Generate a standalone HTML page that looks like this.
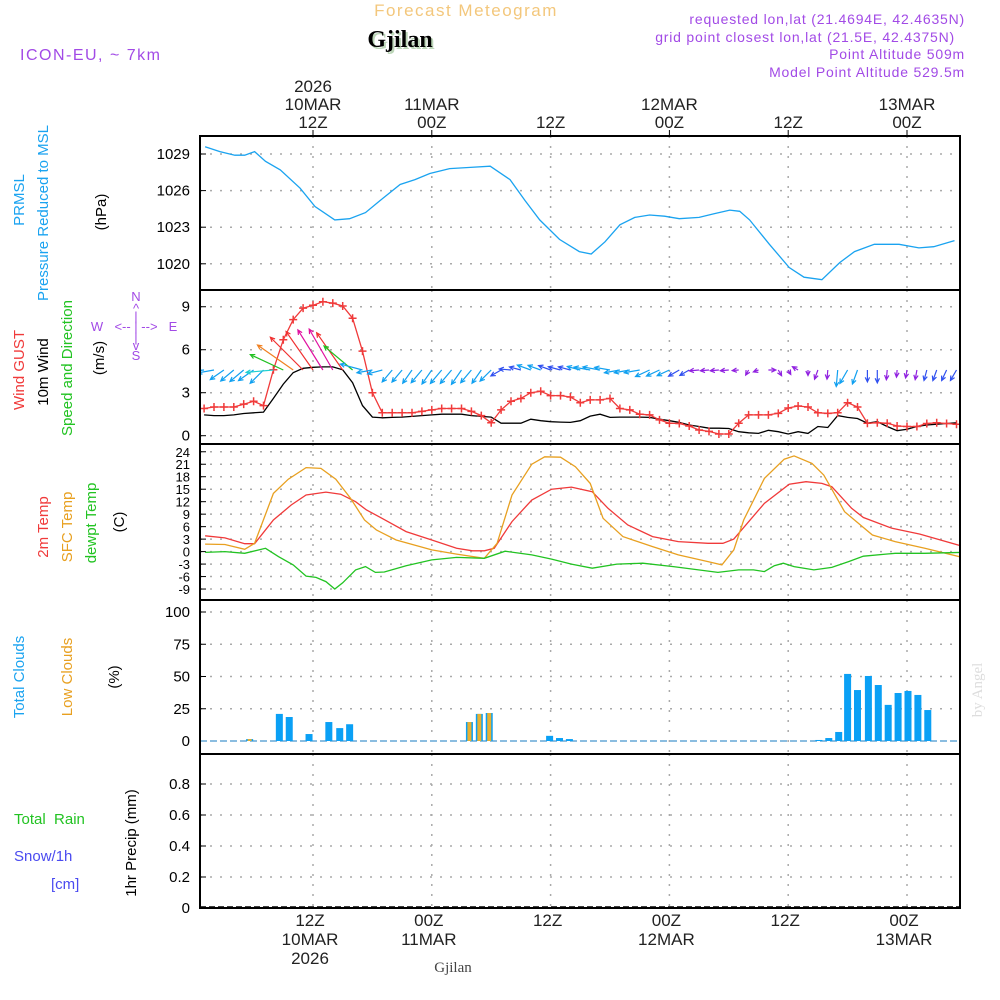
<!DOCTYPE html>
<html><head><meta charset="utf-8">
<style>
html,body{margin:0;padding:0;background:#fff;}
svg{display:block;font-family:"Liberation Sans",sans-serif;}
</style></head>
<body>
<svg id="chart" width="1000" height="1000" viewBox="0 0 1000 1000" xmlns="http://www.w3.org/2000/svg">
<defs><clipPath id="plotclip"><rect x="200" y="136" width="760" height="772"/></clipPath></defs>
<text x="466" y="16" font-size="17" fill="#f3c77c" text-anchor="middle" letter-spacing="1.5">Forecast Meteogram</text>
<text x="402" y="49" font-size="24" font-weight="bold" font-family="Liberation Serif, serif" fill="#bcd6b8" text-anchor="middle">Gjilan</text>
<text x="400" y="47" font-size="24" font-weight="bold" font-family="Liberation Serif, serif" fill="#000" text-anchor="middle">Gjilan</text>
<text x="965" y="24" font-size="14" fill="#a24ae6" text-anchor="end" letter-spacing="0.8">requested lon,lat (21.4694E, 42.4635N)</text>
<text x="955" y="42" font-size="14" fill="#a24ae6" text-anchor="end" letter-spacing="0.8">grid point closest lon,lat (21.5E, 42.4375N)</text>
<text x="965" y="59" font-size="14" fill="#a24ae6" text-anchor="end" letter-spacing="0.8">Point Altitude 509m</text>
<text x="965" y="77" font-size="14" fill="#a24ae6" text-anchor="end" letter-spacing="0.8">Model Point Altitude 529.5m</text>
<text x="20" y="60" font-size="16" fill="#a24ae6" letter-spacing="1.5">ICON-EU, ~ 7km</text>

<text transform="translate(24,200) rotate(-90)" font-size="15" fill="#1aa3f0" text-anchor="middle">PRMSL</text>
<text transform="translate(48,213) rotate(-90)" font-size="15" fill="#1aa3f0" text-anchor="middle">Pressure Reduced to MSL</text>
<text transform="translate(106,212) rotate(-90)" font-size="15" fill="#000" text-anchor="middle">(hPa)</text>
<text transform="translate(24,370) rotate(-90)" font-size="15" fill="#f03a3a" text-anchor="middle">Wind GUST</text>
<text transform="translate(48,372) rotate(-90)" font-size="15" fill="#000" text-anchor="middle">10m Wind</text>
<text transform="translate(72,368) rotate(-90)" font-size="15" fill="#22c322" text-anchor="middle">Speed and Direction</text>
<text transform="translate(104,358) rotate(-90)" font-size="15" fill="#000" text-anchor="middle">(m/s)</text>
<g font-size="13" fill="#a24ae6" text-anchor="middle">
<text x="136" y="301">N</text><text x="136" y="313">^</text><text x="136" y="321">|</text>
<text x="97" y="331">W</text><text x="136" y="331">&lt;-- | --&gt;</text><text x="173" y="331">E</text>
<text x="136" y="342">|</text><text x="136" y="350">v</text><text x="136" y="360">S</text>
</g>
<text transform="translate(48,527) rotate(-90)" font-size="15" fill="#f03a3a" text-anchor="middle">2m Temp</text>
<text transform="translate(72,527) rotate(-90)" font-size="15" fill="#e8a020" text-anchor="middle">SFC Temp</text>
<text transform="translate(96,523) rotate(-90)" font-size="15" fill="#22c322" text-anchor="middle">dewpt Temp</text>
<text transform="translate(124,522) rotate(-90)" font-size="15" fill="#000" text-anchor="middle">(C)</text>
<text transform="translate(24,677) rotate(-90)" font-size="15" fill="#1aa3f0" text-anchor="middle">Total Clouds</text>
<text transform="translate(72,677) rotate(-90)" font-size="15" fill="#e8a020" text-anchor="middle">Low Clouds</text>
<text transform="translate(119,677) rotate(-90)" font-size="15" fill="#000" text-anchor="middle">(%)</text>
<text x="14" y="824" font-size="15" fill="#22c322" xml:space="preserve">Total  Rain</text>
<text x="14" y="861" font-size="15" fill="#4a4af0">Snow/1h</text>
<text x="51" y="889" font-size="15" fill="#4a4af0">[cm]</text>
<text transform="translate(136,843) rotate(-90)" font-size="15" fill="#000" text-anchor="middle">1hr Precip (mm)</text>
<text transform="translate(982,690) rotate(-90)" font-size="15" font-family="Liberation Serif, serif" fill="#ddd" text-anchor="middle">by Angel</text>
<text x="453" y="972" font-size="15" font-family="Liberation Serif, serif" fill="#444" text-anchor="middle">Gjilan</text>

<g id="grid"></g>
<g id="marks" clip-path="url(#plotclip)"></g>
<g id="frame"></g>
<g id="labels"></g>
</svg>
<script>
const presHours=[1.1,2.6,4.1,5.1,6.1,7.2,8.7,10.7,12.2,14.2,15.7,17.3,18.8,20.8,22.3,23.8,25.8,27.9,29.9,31.9,33.4,34.9,36.9,38.9,40.1,41.5,43,44.5,46,47.5,49,51,52.5,54.1,55.1,56.1,58.1,60.1,61.6,63.4,65.2,66.7,68.7,71.2,73.2,74.7,76.8];
const presVals=[1029.6,1029.2,1028.9,1028.9,1029.2,1028.4,1027.7,1026.2,1024.7,1023.6,1023.7,1024.2,1025.2,1026.5,1026.9,1027.4,1027.8,1027.9,1028.0,1026.9,1025.2,1023.6,1022.0,1021.0,1020.8,1021.8,1023.2,1023.8,1024.0,1023.9,1023.7,1023.8,1024.1,1024.4,1024.3,1023.6,1021.6,1019.7,1018.9,1018.7,1020.1,1021.0,1021.6,1021.6,1021.3,1021.4,1021.9];
const windStartHour=1;
const gustVals=[1.9,2.0,2.0,2.0,2.2,2.4,2.1,4.6,6.7,8.1,8.9,9.1,9.35,9.25,9.05,8.2,5.9,3.0,1.6,1.6,1.6,1.6,1.7,1.8,1.9,1.9,1.9,1.7,1.4,0.9,1.8,2.4,2.6,3.0,3.1,2.8,2.8,2.7,2.3,2.5,2.5,2.6,1.9,1.8,1.5,1.45,1.1,0.87,0.85,0.68,0.4,0.3,0.12,0.12,0.87,1.45,1.45,1.45,1.56,1.93,2.07,2.0,1.6,1.56,1.6,2.3,2.0,0.87,0.9,0.87,0.68,0.64,0.64,0.85,0.9,0.85,0.8];
const windVals=[1.45,1.4,1.4,1.45,1.55,1.6,1.65,2.6,3.6,4.4,4.7,4.77,4.8,4.8,4.6,3.7,2.1,1.3,1.25,1.28,1.3,1.35,1.4,1.45,1.5,1.5,1.5,1.4,1.35,1.3,0.87,0.87,0.87,1.15,1.05,0.98,0.95,0.93,1.05,1.37,1.5,1.28,1.3,1.3,1.3,1.28,1.15,1.05,0.93,0.75,0.64,0.52,0.52,0.5,0.28,0.2,0.16,0.38,0.28,0.12,0.28,0.16,0.64,0.57,1.4,1.28,1.2,0.87,0.98,0.64,0.35,0.45,0.64,0.75,0.8,0.85,0.9];
const windDirs=[185,190,215,220,220,215,225,185,155,145,135,125,122,120,125,140,165,190,195,230,230,235,230,235,230,230,235,230,235,225,210,175,165,160,160,160,165,165,165,170,170,170,190,190,190,205,205,205,210,210,185,185,185,185,185,240,200,0,300,300,150,270,250,265,265,240,250,270,270,265,265,260,260,255,250,245,240];
const t2Hours=[1.1,3.1,5.1,6.1,8,9.8,11.3,13.3,14.8,16.3,17.4,18.9,21.4,24,26.5,28.1,29.3,30.3,32.1,34.1,36.1,38.1,40.2,41.8,43.8,46.3,48.9,51.9,53.4,54.5,57.6,60.1,61.8,63.4,64.4,66.4,67.6,70.5,73.3,77.6];
const t2Vals=[3.8,3.3,1.9,1.9,7.6,11.2,13.6,14.3,13.8,12.0,10.0,8.1,4.8,2.8,0.8,0.2,0.2,0.8,7.2,12.4,15.0,15.5,14.4,10.4,6.4,3.6,2.4,2.0,2.0,3.0,11.6,16.2,16.8,16.4,15.6,10.4,8.2,5.6,4.2,1.3];
const sfcHours=[1.1,3.1,5.1,6.1,8,9.5,11.3,12.8,14.3,15.8,17.2,18.4,20.4,24,26.5,29.3,30.6,32.1,34.1,35.4,37,38.5,40,41.3,43.3,46.3,48.9,51.9,53.3,54.5,55.5,57.6,59.6,60.6,62.4,63.6,65.7,68.5,70.8,73.8,77.6];
const sfcVals=[1.8,1.7,0.55,2.0,14.0,17.4,20.2,20.0,17.4,12.8,7.6,5.2,2.8,0.4,-0.6,-1.6,2.0,13.6,21.0,22.8,22.7,20.4,16.4,8.0,3.6,1.2,-0.8,-2.4,-3.2,0.4,7.6,17.6,22.2,23.0,21.2,18.4,9.6,4.0,2.4,0.8,-1.4];
const dewHours=[1.1,3.1,5.1,7.2,8.5,10,11.3,12.3,13.3,14.2,15,16.3,17.3,18.3,19.2,21.4,24,26.5,29.3,31.4,34.1,36.1,38.1,40.2,42.7,45.3,48.4,52.9,55,56.5,57.6,58.6,59.5,60.6,62.6,64.4,66.1,67.6,70.8,73.8,77.6];
const dewVals=[-0.2,0,-0.4,0.8,-1.2,-3.2,-5.9,-6.2,-7.2,-9.0,-7.5,-4.4,-3.6,-5.0,-4.9,-3.4,-2.0,-1.4,-1.6,0.1,-0.8,-1.8,-3.0,-4.0,-3.0,-2.8,-3.6,-5.0,-4.4,-4.4,-4.8,-3.4,-2.8,-3.6,-4.4,-3.8,-2.4,-1.1,-0.4,-0.4,-0.2];
const cloudHours=[5.6,8.6,9.6,11.6,13.6,14.7,15.7,27.8,28.8,29.8,35.9,36.9,37.9,63.1,64.1,65.1,66.0,67.0,68.1,69.1,70.1,71.1,72.1,73.1,74.1];
const totalCloud=[1.5,21,18.6,5.4,14.7,10,13,14.7,21,21.7,4,2.3,1.5,0.8,2.3,7,52,39.5,50.4,43.4,28,37.2,38.8,35.7,24];
const lowCloud=[1.5,0,0,0,0,0,0,14.7,21,21.7,0,0,0,0,0,0,0,0,0,0,0,0,0,0,0];
const presTicks=[1029,1026,1023,1020];
const windTicks=[9,6,3,0];
const tempTicks=[24,21,18,15,12,9,6,3,0,-3,-6,-9];
const cloudTicks=[100,75,50,25,0];
const precipTicks=[0.8,0.6,0.4,0.2,0];
const timeTicks=[12,24,36,48,60,72];
const topLabels=[["2026","10MAR","12Z"],["","11MAR","00Z"],["","","12Z"],["","12MAR","00Z"],["","","12Z"],["","13MAR","00Z"]];
const botLabels=[["12Z","10MAR","2026"],["00Z","11MAR",""],["12Z","",""],["00Z","12MAR",""],["12Z","",""],["00Z","13MAR",""]];

const X=h=>313+(h-12)*9.9;
const yP=v=>154+(1029-v)*12.2;
const yW=v=>435.7-v*14.33;
const yT=v=>551.6-v*4.16;
const yC=v=>741-v*1.29;
const yR=v=>908-v*155;
const NS="http://www.w3.org/2000/svg";
function mk(tag,attrs,parent){const e=document.createElementNS(NS,tag);for(const k in attrs)e.setAttribute(k,attrs[k]);parent.appendChild(e);return e;}
const grid=document.getElementById('grid'),marks=document.getElementById('marks'),frame=document.getElementById('frame'),labels=document.getElementById('labels');
const panels=[[136,290,presTicks,yP,'pressure'],[290,444,windTicks,yW,'wind'],[444,600,tempTicks,yT,'temp'],[600,754,cloudTicks,yC,'cloud'],[754,908,precipTicks,yR,'precip']];
panels.forEach(([top,bot,ticks,yf,nm])=>{
  ticks.forEach(t=>{
    const y=yf(t);
    const gl=mk('line',{x1:200,x2:960,y1:y,y2:y,stroke:'#aaa','stroke-width':1.5,'stroke-dasharray':'2,8'},grid);
    
    
    mk('line',{x1:200,x2:206,y1:y,y2:y,stroke:'#000','stroke-width':1},grid);
    const tl=mk('text',{x:190,y:y+5,'font-size':nm==='temp'?13:15,'text-anchor':'end',fill:'#000'},labels);
    tl.textContent=t;
    
    
  });
  timeTicks.forEach(h=>{
    const vl=mk('line',{x1:X(h),x2:X(h),y1:top,y2:bot,stroke:'#aaa','stroke-width':1.5,'stroke-dasharray':'2,8'},grid);
    
    
  });
  const r=mk('rect',{x:200,y:top,width:760,height:bot-top,fill:'none',stroke:'#000','stroke-width':2},frame);
  
  
});
timeTicks.forEach((h,i)=>{
  mk('line',{x1:X(h),x2:X(h),y1:130,y2:136,stroke:'#000'},frame);
  topLabels[i].forEach((s,j)=>{if(!s)return;const t=mk('text',{x:X(h),y:92+j*18,'font-size':17,'text-anchor':'middle',fill:'#222'},labels);t.textContent=s;
    
    });
  botLabels[i].forEach((s,j)=>{if(!s)return;const t=mk('text',{x:X(h)-3,y:926+j*19,'font-size':17,'text-anchor':'middle',fill:'#222'},labels);t.textContent=s;
    
    });
});
function line(hs,vs,yf,color,name){
  const d=hs.map((h,i)=>(i?'L':'M')+X(h).toFixed(1)+','+yf(vs[i]).toFixed(1)).join('');
  const p=mk('path',{d:d,fill:'none',stroke:color,'stroke-width':1.3},marks);
  
  
}
line(presHours,presVals,yP,'#1aa3f0','pressure-line');
const windHours=windVals.map((v,i)=>windStartHour+i);
line(windHours,windVals,yW,'#000','wind-speed-line');
line(windHours,gustVals,yW,'#f03a3a','gust-line');
windHours.forEach((h,i)=>{
  const x=X(h),y=yW(gustVals[i]);
  const g=mk('path',{d:`M${x-4},${y}H${x+4}M${x},${y-4}V${y+4}`,stroke:'#f03a3a','stroke-width':1.5},marks);
  
  
});
function wcol(s){if(s<0.7)return '#9020e0';if(s<1.0)return '#3050f0';if(s<2.5)return '#10a0f0';if(s<3.0)return '#20d0d0';if(s<3.8)return '#20c020';if(s<4.3)return '#e0d020';if(s<4.6)return '#f08020';if(s<4.78)return '#f03030';return '#e010a0';}
windHours.forEach((h,i)=>{
  const s=windVals[i],a=windDirs[i]*Math.PI/180,L=4+9*s;
  const x0=X(h),y0=370,x1=x0+L*Math.cos(a),y1=y0-L*Math.sin(a);
  const hl=5,b1=a+Math.PI-0.45,b2=a+Math.PI+0.45;
  const c=wcol(s);
  const ar=mk('path',{d:`M${x0},${y0}L${x1},${y1}M${x1+hl*Math.cos(b1)},${y1-hl*Math.sin(b1)}L${x1},${y1}L${x1+hl*Math.cos(b2)},${y1-hl*Math.sin(b2)}`,fill:'none',stroke:c,'stroke-width':1.2},marks);
  
  
});
line(t2Hours,t2Vals,yT,'#f03a3a','temp-2m-line');
line(sfcHours,sfcVals,yT,'#e8a020','sfc-temp-line');
line(dewHours,dewVals,yT,'#22c322','dewpoint-line');
const zl=mk('line',{x1:200,x2:960,y1:yC(0),y2:yC(0),stroke:'#8bbde0','stroke-width':2,'stroke-dasharray':'7,3'},marks);


cloudHours.forEach((h,i)=>{
  const x=X(h);
  if(totalCloud[i]>0){const r=mk('rect',{x:x-3.5,y:yC(totalCloud[i]),width:7,height:yC(0)-yC(totalCloud[i]),fill:'#0aa0f5'},marks);
    
    }
  if(lowCloud[i]>0){const r=mk('rect',{x:x-2,y:yC(lowCloud[i]),width:4,height:yC(0)-yC(lowCloud[i]),fill:'#e8b030'},marks);
    
    }
});
const pl=mk('line',{x1:200,x2:960,y1:yR(0)-1,y2:yR(0)-1,stroke:'#000','stroke-width':1.5,'stroke-dasharray':'6,3'},marks);


</script>
</body></html>
